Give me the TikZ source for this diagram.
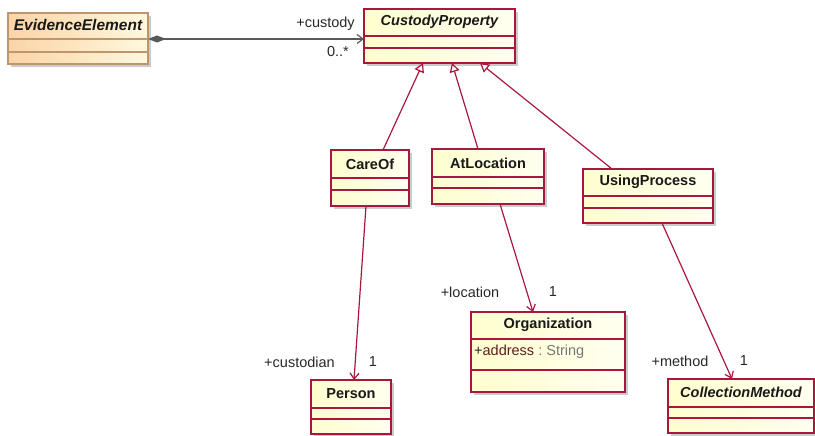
\documentclass[tikz,border=0pt]{standalone}
\usepackage{fontspec}
\setmainfont{Liberation Sans}
\usetikzlibrary{arrows.meta,shadows,calc}
\definecolor{umlred}{RGB}{168,24,62}
\definecolor{boxlight}{RGB}{254,254,206}
\definecolor{boxwhite}{RGB}{255,255,240}
\definecolor{eeleft}{RGB}{251,212,166}
\definecolor{eeright}{RGB}{255,248,222}
\definecolor{eeborder}{RGB}{190,150,110}
\definecolor{lbl}{RGB}{40,40,40}
\definecolor{attrname}{RGB}{95,30,30}
\definecolor{attrtype}{RGB}{120,120,120}
\tikzset{
  cls/.style={draw=umlred, line width=1.2pt, left color=boxlight, right color=boxwhite,
    anchor=north west, inner sep=0pt, outer sep=0pt,
    drop shadow={shadow xshift=3pt, shadow yshift=-3pt, fill=black!45, opacity=0.45}},
  eecls/.style={cls, draw=eeborder, left color=eeleft, right color=eeright},
  divider/.style={draw=umlred, line width=1.2pt},
  eedivider/.style={draw=eeborder, line width=1.2pt},
  title/.style={font=\fontsize{14.5}{16}\selectfont\bfseries, text=black!90, inner sep=0pt},
  atitle/.style={title, font=\fontsize{14.5}{16}\selectfont\bfseries\itshape},
  role/.style={font=\fontsize{14.5}{16}\selectfont, text=lbl, inner sep=0pt},
  gen/.style={draw=umlred, line width=1.2pt, -{Triangle[open, length=9pt, width=10pt, fill=white]}},
  assoc/.style={draw=umlred, line width=1.2pt, -{Straight Barb[length=6pt, width=9pt]}},
  comp/.style={draw=black!65, line width=1.2pt, {Diamond[length=18pt, width=7pt, fill=black!65]}-{Straight Barb[length=6pt, width=9pt]}},
}
\begin{document}
\begin{tikzpicture}[x=1pt, y=-1pt]
\useasboundingbox (0,0) rectangle (815,436);
% boxes
\node[eecls, minimum width=140pt, minimum height=51pt] (ee) at (8,13) {};
\draw[eedivider] ([yshift=-26pt]ee.north west) -- ([yshift=-26pt]ee.north east);
\draw[eedivider] ([yshift=-39pt]ee.north west) -- ([yshift=-39pt]ee.north east);
\node[atitle, font=\fontsize{15.5}{17}\selectfont\bfseries\itshape] (eet) at (78,25) {EvidenceElement};

\node[cls, minimum width=151pt, minimum height=54pt] (cp) at (364,9) {};
\draw[divider] ([yshift=-27pt]cp.north west) -- ([yshift=-27pt]cp.north east);
\draw[divider] ([yshift=-39pt]cp.north west) -- ([yshift=-39pt]cp.north east);
\node[atitle] (cpt) at (439.5,22) {CustodyProperty};

\node[cls, minimum width=78pt, minimum height=56pt] (careof) at (331,150) {};
\draw[divider] ([yshift=-28pt]careof.north west) -- ([yshift=-28pt]careof.north east);
\draw[divider] ([yshift=-40pt]careof.north west) -- ([yshift=-40pt]careof.north east);
\node[title] (careoft) at (370,164) {CareOf};

\node[cls, minimum width=112pt, minimum height=55pt] (atloc) at (432,149) {};
\draw[divider] ([yshift=-28pt]atloc.north west) -- ([yshift=-28pt]atloc.north east);
\draw[divider] ([yshift=-39pt]atloc.north west) -- ([yshift=-39pt]atloc.north east);
\node[title] (atloct) at (488,163) {AtLocation};

\node[cls, minimum width=130pt, minimum height=54pt] (using) at (583,169) {};
\draw[divider] ([yshift=-27pt]using.north west) -- ([yshift=-27pt]using.north east);
\draw[divider] ([yshift=-39pt]using.north west) -- ([yshift=-39pt]using.north east);
\node[title] (usingt) at (648,182) {UsingProcess};

\node[cls, minimum width=80pt, minimum height=54pt] (person) at (311,380) {};
\draw[divider] ([yshift=-28pt]person.north west) -- ([yshift=-28pt]person.north east);
\draw[divider] ([yshift=-39pt]person.north west) -- ([yshift=-39pt]person.north east);
\node[title] (persont) at (351,394) {Person};

\node[cls, minimum width=154pt, minimum height=80pt] (org) at (471,312) {};
\draw[divider] ([yshift=-27pt]org.north west) -- ([yshift=-27pt]org.north east);
\draw[divider] ([yshift=-58pt]org.north west) -- ([yshift=-58pt]org.north east);
\node[title] (orgt) at (548,325) {Organization};
\node[role, anchor=west] (orgattr) at (474,352) {+\textcolor{attrname}{address}~\textcolor{attrtype}{:~String}};

\node[cls, minimum width=146pt, minimum height=54pt] (cm) at (668,379) {};
\draw[divider] ([yshift=-28pt]cm.north west) -- ([yshift=-28pt]cm.north east);
\draw[divider] ([yshift=-39pt]cm.north west) -- ([yshift=-39pt]cm.north east);
\node[atitle] (cmt) at (741,392) {CollectionMethod};

% connectors
\draw[comp] ([yshift=-26pt]ee.north east) -- ([yshift=-30pt]cp.north west);
\draw[gen] ([xshift=52pt]careof.north west) -- ([xshift=59pt]cp.south west);
\draw[gen] ([xshift=46pt]atloc.north west) -- ([xshift=88pt]cp.south west);
\draw[gen] ([xshift=29pt]using.north west) -- ([xshift=116pt]cp.south west);
\draw[assoc] ([xshift=35pt]careof.south west) -- ([xshift=43pt]person.north west);
\draw[assoc] ([xshift=68pt]atloc.south west) -- ([xshift=62pt]org.north west);
\draw[assoc] ([xshift=79pt]using.south west) -- ([xshift=64pt]cm.north west);

% role labels
\node[role] (l1) at (325.5,24) {+custody};
\node[role] (l2) at (338,52) {0..*};
\node[role] (l3) at (299.5,362) {+custodian};
\node[role] (l4) at (373,362) {1};
\node[role] (l5) at (470,292) {+location};
\node[role] (l6) at (553,292) {1};
\node[role] (l7) at (680,361) {+method};
\node[role] (l8) at (744,361) {1};
\end{tikzpicture}
\end{document}
